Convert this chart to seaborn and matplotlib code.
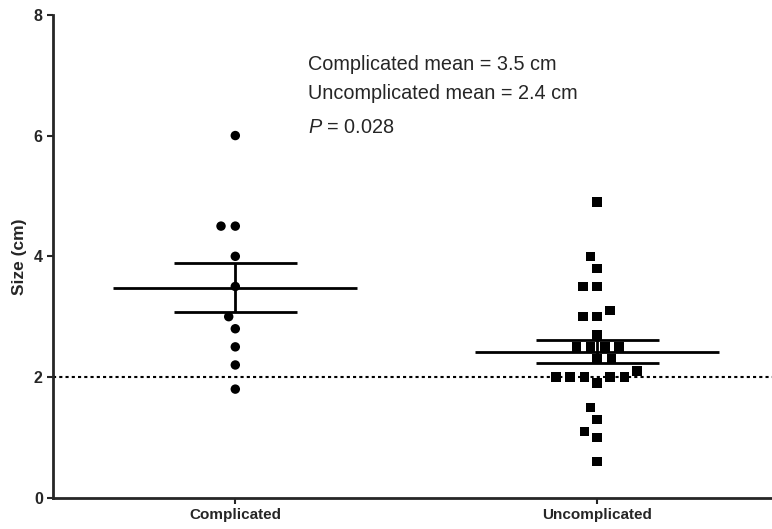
import pandas as pd
import matplotlib
matplotlib.use("Agg")
import matplotlib.pyplot as plt
import seaborn as sns

# values
groups = ["Complicated", "Uncomplicated"]
complicated = [6.0, 4.5, 4.5, 4.0, 3.5, 3.0, 2.8, 2.5, 2.2, 1.8]
uncomplicated = [4.9, 4.0, 3.8, 3.5, 3.5, 3.1, 3.0, 3.0, 2.7,
                 2.5, 2.5, 2.5, 2.5, 2.3, 2.3,
                 2.1, 2.0, 2.0, 2.0, 2.0, 2.0, 1.9,
                 1.5, 1.3, 1.1, 1.0, 0.6]
means = [3.48, 2.42]
sems = [0.41, 0.19]
cutoff = 2.0
notes = ["Complicated mean = 3.5 cm", "Uncomplicated mean = 2.4 cm", "$P$ = 0.028"]

df = pd.DataFrame({
    "group": ["Complicated"] * len(complicated) + ["Uncomplicated"] * len(uncomplicated),
    "size": complicated + uncomplicated,
})

sns.set_style("ticks")
plt.rcParams["font.family"] = ["Liberation Sans", "DejaVu Sans"]
plt.rcParams["mathtext.fontset"] = "custom"
plt.rcParams["mathtext.rm"] = "Liberation Sans"
plt.rcParams["mathtext.it"] = "Liberation Sans:italic"

fig = plt.figure(figsize=(7.72, 5.29), dpi=100)
ax = fig.add_axes([0.069, 0.059, 0.931, 0.913])

# dotted reference line
ax.axhline(cutoff, color="black", linestyle=(0, (1.5, 1.5)), linewidth=1.5, zorder=1)

# points (invisible edge widens the swarm spacing a bit)
sns.swarmplot(data=df[df.group == "Complicated"], x="group", y="size", order=groups,
              marker="o", color="black", size=6.8, linewidth=3, edgecolor="none",
              ax=ax, zorder=3)
sns.swarmplot(data=df[df.group == "Uncomplicated"], x="group", y="size", order=groups,
              marker="s", color="black", size=6.8, linewidth=3, edgecolor="none",
              ax=ax, zorder=3)

# mean and SEM
for i, (m, s) in enumerate(zip(means, sems)):
    ax.hlines(m, i - 0.337, i + 0.337, color="black", linewidth=2, zorder=4)
    ax.hlines([m - s, m + s], i - 0.17, i + 0.17, color="black", linewidth=2, zorder=4)
    ax.vlines(i, m - s, m + s, color="black", linewidth=2, zorder=4)

for txt, yv in zip(notes, [7.17, 6.7, 6.13]):
    ax.text(0.2, yv, txt, fontsize=14.3, va="center", ha="left")

ax.set_xlim(-0.503, 1.483)
ax.set_ylim(0, 8)
ax.set_yticks([0, 2, 4, 6, 8])
ax.set_xlabel("")
ax.set_ylabel("Size (cm)", fontsize=12.5, fontweight="bold", labelpad=5)
ax.tick_params(axis="both", length=4, width=1.5, labelsize=11.5)
ax.tick_params(axis="x", labelsize=11)
for lab in ax.get_xticklabels() + ax.get_yticklabels():
    lab.set_fontweight("bold")
sns.despine(ax=ax)
ax.spines["left"].set_linewidth(2)
ax.spines["bottom"].set_linewidth(2)

fig.savefig("out.png", dpi=100)
